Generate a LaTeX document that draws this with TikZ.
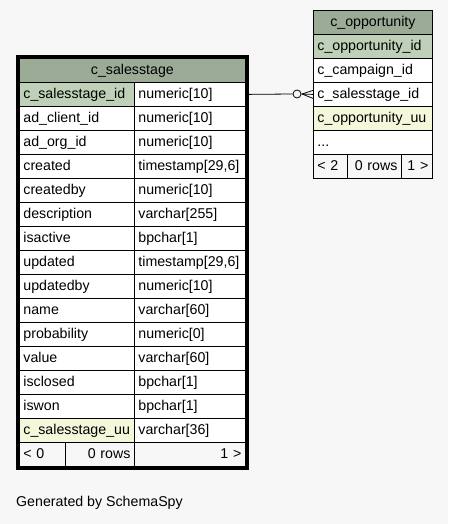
\documentclass[tikz,border=0pt]{standalone}
\usepackage{fontspec}
\setmainfont{Liberation Sans}
\definecolor{hdrgreen}{RGB}{155,171,150}
\definecolor{pkgreen}{RGB}{190,209,184}
\definecolor{uuyellow}{RGB}{244,247,218}
\definecolor{pagegray}{RGB}{247,247,247}
\begin{document}
\begin{tikzpicture}[x=1pt,y=-1pt,font=\fontsize{14.2}{17}\selectfont]
\tikzstyle{cell}=[draw,line width=0.8pt,anchor=north west,minimum height=24pt,inner xsep=4pt,inner ysep=0pt,text height=10.5pt,text depth=3pt]
\tikzstyle{lcell}=[cell,align=left]
\tikzstyle{rcell}=[cell,align=right]
\tikzstyle{link}=[line width=0.8pt]
\useasboundingbox (0,0) rectangle (448,524);
\fill[pagegray] (0,0) rectangle (448,524);
% c_salesstage
\node[cell,fill=hdrgreen,text width=218pt,align=center] (sshead) at (19,58) {c\_salesstage};
\foreach \i/\fld/\typ/\clr in {
	1/c\_salesstage\_id/numeric[10]/pkgreen,
	2/ad\_client\_id/numeric[10]/white,
	3/ad\_org\_id/numeric[10]/white,
	4/created/{timestamp[29,6]}/white,
	5/createdby/numeric[10]/white,
	6/description/varchar[255]/white,
	7/isactive/bpchar[1]/white,
	8/updated/{timestamp[29,6]}/white,
	9/updatedby/numeric[10]/white,
	10/name/varchar[60]/white,
	11/probability/numeric[0]/white,
	12/value/varchar[60]/white,
	13/isclosed/bpchar[1]/white,
	14/iswon/bpchar[1]/white,
	15/c\_salesstage\_uu/varchar[36]/uuyellow}
{
	\node[lcell,fill=\clr,text width=107pt] (ssf\i) at (19,58+24*\i) {\fld};
	\node[lcell,fill=white,text width=103pt] (sst\i) at (134,58+24*\i) {\typ};
}
\node[lcell,fill=pagegray,text width=38pt] (ssft1) at (19,442) {< 0};
\node[rcell,fill=pagegray,text width=61pt] (ssft2) at (65,442) {0 rows};
\node[rcell,fill=pagegray,text width=103pt] (ssft3) at (134,442) {1 >};
\draw[line width=3pt] ([shift={(-1.5,-1.5)}]sshead.north west) rectangle ([shift={(1.5,1.5)}]ssft3.south east);
% c_opportunity
\node[cell,fill=hdrgreen,text width=111pt,align=center] (opphead) at (313,10) {c\_opportunity};
\foreach \i/\fld/\clr in {
	1/c\_opportunity\_id/pkgreen,
	2/c\_campaign\_id/white,
	3/c\_salesstage\_id/white,
	4/c\_opportunity\_uu/uuyellow,
	5/.{}.{}./white}
	\node[lcell,fill=\clr,text width=111pt] (opp\i) at (313,10+24*\i) {\fld};
\node[lcell,fill=pagegray,text width=26pt] (oppft1) at (313,154) {< 2};
\node[rcell,fill=pagegray,text width=46pt] (oppft2) at (347,154) {0 rows};
\node[rcell,fill=pagegray,text width=23pt] (oppft3) at (401,154) {1 >};
% relation
\node[circle,draw,line width=0.8pt,fill=pagegray,minimum size=8pt,inner sep=0pt] (ocirc) at (297,94) {};
\coordinate (crowtip) at (302,94);
\draw[link] (sst1.east) -- (ocirc.west);
\draw[link] (ocirc.east) -- (opp3.west);
\draw[link] (crowtip) -- ([yshift=4pt]opp3.west);
\draw[link] (crowtip) -- ([yshift=-4pt]opp3.west);
\node[anchor=west,inner sep=0pt] (gen) at (16,503) {Generated by SchemaSpy};
\end{tikzpicture}
\end{document}
